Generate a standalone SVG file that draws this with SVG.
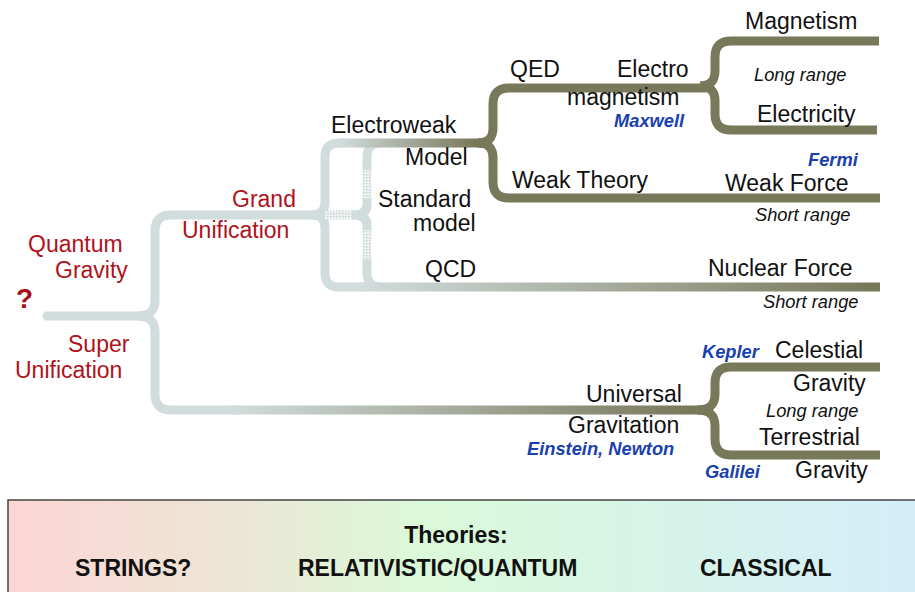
<svg xmlns="http://www.w3.org/2000/svg" width="915" height="592" viewBox="0 0 915 592">
<defs>
<linearGradient id="gEW" gradientUnits="userSpaceOnUse" x1="340" y1="0" x2="475" y2="0"><stop offset="0" stop-color="#d1dcdc"/><stop offset="1" stop-color="#78785a"/></linearGradient>
<linearGradient id="gNF" gradientUnits="userSpaceOnUse" x1="360" y1="0" x2="870" y2="0"><stop offset="0" stop-color="#d1dcdc"/><stop offset="1" stop-color="#78785a"/></linearGradient>
<linearGradient id="gUG" gradientUnits="userSpaceOnUse" x1="230" y1="0" x2="690" y2="0"><stop offset="0" stop-color="#d1dcdc"/><stop offset="1" stop-color="#78785a"/></linearGradient>
<linearGradient id="gBand" x1="0" y1="0" x2="1" y2="0"><stop offset="0" stop-color="#fdd6d6"/><stop offset="0.25" stop-color="#ece6d4"/><stop offset="0.45" stop-color="#dbf9d8"/><stop offset="0.7" stop-color="#d6f4e8"/><stop offset="1" stop-color="#d5edfa"/></linearGradient>
<pattern id="dots" width="3" height="3" patternUnits="userSpaceOnUse"><rect width="3" height="3" fill="#eef2f2"/><rect width="1.5" height="1.5" fill="#c4d0d0"/></pattern>
</defs>
<style>
.gray{fill:none;stroke:#d1dcdc;stroke-width:9}
.olive{fill:none;stroke:#78785a;stroke-width:9}
.dot{fill:none;stroke:url(#dots);stroke-width:9}
text{font-family:"Liberation Sans",Arial,sans-serif}
.t{font-size:23px;fill:#111}
.r{font-size:23px;fill:#b0121b}
.s{font-size:18.3px;font-style:italic;fill:#111}
.b{font-size:18.3px;font-style:italic;font-weight:bold;fill:#1a40b0}
.k{font-size:23px;font-weight:bold;fill:#111}
</style>
<g id="connectors">
<path class="gray" d="M47,316 L140,316" stroke-linecap="round"/>
<path class="gray" d="M138,316 Q155,316 155,300 L155,231 Q155,215 171,215 L317,215"/>
<path class="gray" d="M138,316 Q155,316 155,332 L155,394 Q155,410 171,410 L240,410"/>
<path style="fill:none;stroke:url(#gUG);stroke-width:9" d="M230,410 L703,410"/>
<path class="gray" d="M312,215 Q325,215 325,202 L325,157 Q325,143 339,143 L345,143"/>
<path class="gray" d="M312,215 Q325,215 325,228 L325,273 Q325,287 339,287 L365,287"/>
<path class="dot" d="M325,215 L357,215"/>
<path class="gray" d="M367,170 L367,157 Q367,143 381,143"/>
<path class="dot" d="M367,200 L367,170"/>
<path class="gray" d="M352,215 Q367,215 367,205 L367,198"/>
<path class="gray" d="M352,215 Q367,215 367,225 L367,232"/>
<path class="dot" d="M367,230 L367,262"/>
<path class="gray" d="M367,260 L367,273 Q367,287 381,287"/>
<path style="fill:none;stroke:url(#gEW);stroke-width:9" d="M339,143 L485,143"/>
<path style="fill:none;stroke:url(#gNF);stroke-width:9" d="M360,287 L880,287"/>
<path class="olive" d="M478,143 Q493,143 493,128 L493,104 Q493,88 509,88 L708,88"/>
<path class="olive" d="M478,143 Q493,143 493,158 L493,182 Q493,198 509,198 L880,198"/>
<path class="olive" d="M700,86 Q715,86 715,71 L715,57 Q715,41 731,41 L879,41"/>
<path class="olive" d="M700,86 Q715,86 715,101 L715,114 Q715,130 731,130 L877,130"/>
<path class="olive" d="M698,410 Q715,410 715,394 L715,383 Q715,367 731,367 L880,367"/>
<path class="olive" d="M698,410 Q715,410 715,426 L715,439 Q715,455 731,455 L880,455"/>
</g>
<g id="root"><text x="16" y="308" style="font-size:28px;font-weight:bold;fill:#a50f15">?</text></g>
<g id="quantum-gravity"><text class="r" x="28" y="252">Quantum</text><text class="r" x="55" y="278">Gravity</text></g>
<g id="super-unification"><text class="r" x="68" y="352">Super</text><text class="r" x="15" y="378">Unification</text></g>
<g id="grand-unification"><text class="r" x="232" y="207">Grand</text><text class="r" x="182" y="238">Unification</text></g>
<g id="electroweak"><text class="t" x="331" y="133">Electroweak</text></g>
<g id="standard-model"><text class="t" x="405" y="165">Model</text><text class="t" x="378" y="207">Standard</text><text class="t" x="413" y="231">model</text></g>
<g id="qcd"><text class="t" x="425" y="277">QCD</text></g>
<g id="qed"><text class="t" x="510" y="77">QED</text></g>
<g id="electromagnetism"><text class="t" x="617" y="77">Electro</text><text class="t" x="567" y="105">magnetism</text><text class="b" x="614" y="127">Maxwell</text></g>
<g id="weak-theory"><text class="t" x="512" y="188">Weak Theory</text></g>
<g id="magnetism"><text class="t" x="745" y="29">Magnetism</text></g>
<g id="long-range-em"><text class="s" x="754" y="81">Long range</text></g>
<g id="electricity"><text class="t" x="757" y="122">Electricity</text></g>
<g id="weak-force"><text class="b" x="808" y="166">Fermi</text><text class="t" x="725" y="191">Weak Force</text><text class="s" x="755" y="221">Short range</text></g>
<g id="nuclear-force"><text class="t" x="708" y="276">Nuclear Force</text><text class="s" x="763" y="308">Short range</text></g>
<g id="universal-gravitation"><text class="t" x="586" y="402">Universal</text><text class="t" x="568" y="433">Gravitation</text><text class="b" x="527" y="455">Einstein, Newton</text></g>
<g id="celestial-gravity"><text class="b" x="702" y="358">Kepler</text><text class="t" x="775" y="358">Celestial</text><text class="t" x="793" y="391">Gravity</text></g>
<g id="long-range-grav"><text class="s" x="766" y="417">Long range</text></g>
<g id="terrestrial-gravity"><text class="t" x="759" y="445">Terrestrial</text><text class="b" x="705" y="478">Galilei</text><text class="t" x="795" y="478">Gravity</text></g>
<g id="theories-band">
<rect x="8" y="500" width="920" height="100" fill="url(#gBand)" stroke="#444" stroke-width="1.5"/>
<text class="k" x="456" y="543" text-anchor="middle">Theories:</text>
<text class="k" x="75" y="576">STRINGS?</text>
<text class="k" x="298" y="576">RELATIVISTIC/QUANTUM</text>
<text class="k" x="700" y="576">CLASSICAL</text>
</g>
</svg>
